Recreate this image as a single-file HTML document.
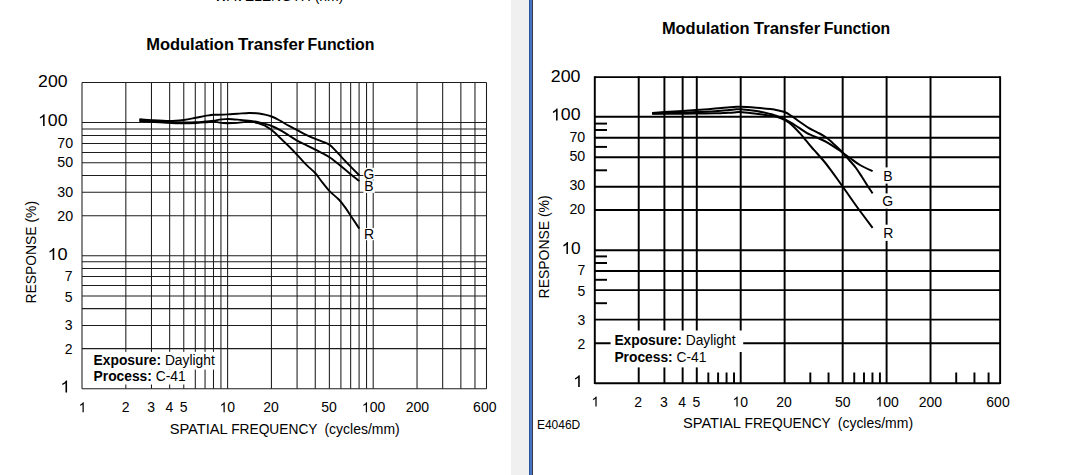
<!DOCTYPE html><html><head><meta charset="utf-8"><title>MTF</title>
<style>html,body{margin:0;padding:0;background:#fff;overflow:hidden}svg{display:block}text{font-family:"Liberation Sans",sans-serif;fill:#000}.b{font-weight:bold}</style></head><body>
<svg width="1066" height="475" viewBox="0 0 1066 475">
<rect width="1066" height="475" fill="#fff"/>
<rect x="511" y="0" width="18" height="475" fill="#f0f0f0"/>
<rect x="529" y="0" width="1" height="475" fill="#2b579a"/>
<rect x="530" y="0" width="2" height="475" fill="#4472c4"/>
<rect x="532" y="0" width="1" height="475" fill="#3b3f44"/>
<g stroke="#1c1c1c" stroke-width="1.05" fill="none">
<line x1="82.00" y1="82.50" x2="82.00" y2="388.70"/>
<line x1="125.83" y1="82.50" x2="125.83" y2="388.70"/>
<line x1="151.47" y1="82.50" x2="151.47" y2="388.70"/>
<line x1="169.66" y1="82.50" x2="169.66" y2="388.70"/>
<line x1="183.77" y1="82.50" x2="183.77" y2="388.70"/>
<line x1="195.30" y1="82.50" x2="195.30" y2="388.70"/>
<line x1="205.05" y1="82.50" x2="205.05" y2="388.70"/>
<line x1="213.49" y1="82.50" x2="213.49" y2="388.70"/>
<line x1="220.94" y1="82.50" x2="220.94" y2="388.70"/>
<line x1="227.60" y1="82.50" x2="227.60" y2="388.70"/>
<line x1="271.43" y1="82.50" x2="271.43" y2="388.70"/>
<line x1="297.07" y1="82.50" x2="297.07" y2="388.70"/>
<line x1="315.26" y1="82.50" x2="315.26" y2="388.70"/>
<line x1="329.37" y1="82.50" x2="329.37" y2="388.70"/>
<line x1="340.90" y1="82.50" x2="340.90" y2="388.70"/>
<line x1="350.65" y1="82.50" x2="350.65" y2="388.70"/>
<line x1="359.09" y1="82.50" x2="359.09" y2="388.70"/>
<line x1="366.54" y1="82.50" x2="366.54" y2="388.70"/>
<line x1="373.20" y1="82.50" x2="373.20" y2="388.70"/>
<line x1="417.03" y1="82.50" x2="417.03" y2="388.70"/>
<line x1="442.67" y1="82.50" x2="442.67" y2="388.70"/>
<line x1="460.86" y1="82.50" x2="460.86" y2="388.70"/>
<line x1="474.97" y1="82.50" x2="474.97" y2="388.70"/>
<line x1="486.50" y1="82.50" x2="486.50" y2="388.70"/>
<line x1="82.00" y1="388.70" x2="486.50" y2="388.70"/>
<line x1="82.00" y1="348.60" x2="486.50" y2="348.60"/>
<line x1="82.00" y1="325.40" x2="486.50" y2="325.40"/>
<line x1="82.00" y1="308.60" x2="486.50" y2="308.60"/>
<line x1="82.00" y1="295.90" x2="486.50" y2="295.90"/>
<line x1="82.00" y1="285.50" x2="486.50" y2="285.50"/>
<line x1="82.00" y1="276.50" x2="486.50" y2="276.50"/>
<line x1="82.00" y1="268.57" x2="486.50" y2="268.57"/>
<line x1="82.00" y1="261.76" x2="486.50" y2="261.76"/>
<line x1="82.00" y1="255.67" x2="486.50" y2="255.67"/>
<line x1="82.00" y1="215.80" x2="486.50" y2="215.80"/>
<line x1="82.00" y1="192.30" x2="486.50" y2="192.30"/>
<line x1="82.00" y1="175.50" x2="486.50" y2="175.50"/>
<line x1="82.00" y1="162.80" x2="486.50" y2="162.80"/>
<line x1="82.00" y1="152.50" x2="486.50" y2="152.50"/>
<line x1="82.00" y1="143.50" x2="486.50" y2="143.50"/>
<line x1="82.00" y1="135.47" x2="486.50" y2="135.47"/>
<line x1="82.00" y1="128.90" x2="486.50" y2="128.90"/>
<line x1="82.00" y1="122.57" x2="486.50" y2="122.57"/>
<line x1="82.00" y1="82.50" x2="486.50" y2="82.50"/>
</g>
<rect x="86" y="351.9" width="130" height="17.7" fill="#fff"/>
<rect x="86" y="369.6" width="100.5" height="14.9" fill="#fff"/>
<rect x="363.4" y="167.8" width="11.3" height="11.8" fill="#fff"/>
<rect x="363.4" y="180.4" width="11.3" height="12.5" fill="#fff"/>
<rect x="363.4" y="228.1" width="11.3" height="12.1" fill="#fff"/>
<g stroke="#000" stroke-width="1.9" fill="none" stroke-linejoin="round" stroke-linecap="butt">
<path d="M139.4,119.3C141.4,119.5 146.4,119.9 151.4,120.2C156.4,120.5 164.0,121.0 169.4,121.0C174.8,121.0 179.3,120.5 183.7,120.0C188.1,119.5 192.1,118.5 195.7,117.8C199.2,117.1 202.6,116.3 205.0,115.9C207.4,115.5 208.6,115.4 210.0,115.2C211.4,115.0 210.6,114.9 213.5,114.8C216.4,114.7 223.6,114.6 227.6,114.4C231.6,114.2 234.0,113.9 237.5,113.7C241.0,113.5 245.7,113.1 248.8,113.0C251.9,112.9 253.8,113.0 256.3,113.2C258.8,113.4 261.2,113.9 263.8,114.4C266.4,115.0 269.0,115.5 271.6,116.5C274.2,117.5 276.9,119.0 279.7,120.5C282.5,122.0 285.7,124.1 288.6,125.7C291.5,127.3 294.2,128.6 297.1,130.1C300.0,131.6 303.1,133.3 306.2,134.8C309.2,136.3 312.4,137.7 315.4,138.9C318.3,140.1 321.5,141.2 323.9,142.2C326.2,143.2 327.8,143.6 329.5,144.8C331.2,146.0 332.3,147.2 334.2,149.2C336.1,151.2 338.3,153.6 341.1,156.6C343.9,159.6 347.9,163.8 350.9,166.9C353.9,170.0 357.9,173.9 359.3,175.3"/>
<path d="M139.4,120.2C141.4,120.4 146.4,120.9 151.4,121.2C156.4,121.5 164.0,122.0 169.4,122.2C174.8,122.4 179.3,122.5 183.7,122.5C188.1,122.5 192.1,122.5 195.7,122.3C199.2,122.1 202.0,121.8 205.0,121.5C208.0,121.2 211.1,121.1 213.5,120.8C215.9,120.5 217.5,119.9 219.5,119.6C221.5,119.3 223.4,119.2 225.5,119.1C227.6,119.0 229.7,119.0 232.3,119.2C234.9,119.4 237.9,119.7 241.3,120.0C244.7,120.3 249.4,120.7 252.5,121.1C255.6,121.5 257.9,122.1 260.0,122.6C262.1,123.1 263.1,123.3 265.0,123.9C266.9,124.5 269.2,125.0 271.6,126.0C274.1,127.0 276.9,128.3 279.7,129.8C282.5,131.3 285.7,133.4 288.6,135.2C291.5,137.0 294.2,139.0 297.1,140.7C300.0,142.3 303.1,143.6 306.2,145.1C309.2,146.6 312.4,148.2 315.4,149.7C318.3,151.2 321.5,152.7 323.9,154.0C326.2,155.3 327.8,156.2 329.5,157.3C331.2,158.4 332.3,159.2 334.2,160.7C336.1,162.2 338.4,163.9 341.1,166.2C343.8,168.4 347.6,171.7 350.6,174.2C353.6,176.7 357.9,179.9 359.3,181.1"/>
<path d="M139.4,121.1C141.4,121.2 146.4,121.6 151.4,121.9C156.4,122.2 164.0,122.7 169.4,122.9C174.8,123.1 179.3,123.3 183.7,123.3C188.1,123.3 192.1,123.2 195.7,123.1C199.2,122.9 202.0,122.7 205.0,122.4C208.0,122.2 211.1,121.6 213.5,121.6C215.9,121.6 217.2,122.3 219.5,122.6C221.8,122.9 224.6,123.2 227.6,123.2C230.6,123.2 234.6,123.1 237.5,122.9C240.4,122.7 242.5,122.1 245.0,121.9C247.5,121.7 250.0,121.6 252.5,121.9C255.0,122.2 257.9,123.2 260.0,123.8C262.1,124.4 263.1,124.7 265.0,125.7C266.9,126.8 269.2,128.1 271.6,130.1C274.1,132.1 276.9,134.8 279.7,137.5C282.5,140.2 285.7,143.1 288.6,146.0C291.5,148.9 294.2,151.7 297.1,154.8C300.0,157.9 303.2,161.7 306.2,164.7C309.2,167.7 312.6,170.2 315.2,173.0C317.8,175.8 319.5,178.8 321.9,181.8C324.3,184.8 326.7,188.2 329.5,191.1C332.3,194.0 336.1,196.7 338.8,199.5C341.5,202.3 343.3,204.8 345.5,207.9C347.7,211.0 349.9,214.6 352.2,218.0C354.5,221.4 358.1,226.8 359.3,228.6"/>
</g>
<text x="146.2" y="49.9" font-size="16.8" text-anchor="start" textLength="87.8" lengthAdjust="spacingAndGlyphs" class="b" style="fill:#000">Modulation</text>
<text x="237.9" y="49.9" font-size="16.8" text-anchor="start" textLength="66.5" lengthAdjust="spacingAndGlyphs" class="b" style="fill:#000">Transfer</text>
<text x="307.5" y="49.9" font-size="16.8" text-anchor="start" textLength="67.0" lengthAdjust="spacingAndGlyphs" class="b" style="fill:#000">Function</text>
<text x="214.3" y="1.0" font-size="14" text-anchor="start" >WAVELENGTH (nm)</text>
<g transform="translate(38.1,87.1) scale(1.07,1)"><text x="0.00" y="0" font-size="16.5">2</text><text x="9.17" y="0" font-size="16.5">0</text><text x="18.35" y="0" font-size="16.5">0</text></g>
<g transform="translate(38.0,126.1) scale(1.075,1)"><path d="M373 0L285 0L285 -560Q253 -530 201 -499Q150 -469 109 -454L109 -539Q183 -574 238 -623Q293 -673 316 -720L373 -720Z" fill="#000" transform="translate(0.00,0) scale(0.01650)"/><text x="9.17" y="0" font-size="16.5">0</text><text x="18.35" y="0" font-size="16.5">0</text></g>
<text x="57.3" y="148.2" font-size="14" text-anchor="start" textLength="15.8" lengthAdjust="spacingAndGlyphs" >70</text>
<text x="57.3" y="166.6" font-size="14" text-anchor="start" textLength="15.8" lengthAdjust="spacingAndGlyphs" >50</text>
<text x="57.3" y="196.5" font-size="14" text-anchor="start" textLength="15.8" lengthAdjust="spacingAndGlyphs" >30</text>
<text x="57.3" y="220.5" font-size="14" text-anchor="start" textLength="15.8" lengthAdjust="spacingAndGlyphs" >20</text>
<g transform="translate(47.5,260.0) scale(1.1,1)"><path d="M373 0L285 0L285 -560Q253 -530 201 -499Q150 -469 109 -454L109 -539Q183 -574 238 -623Q293 -673 316 -720L373 -720Z" fill="#000" transform="translate(0.00,0) scale(0.01650)"/><text x="9.17" y="0" font-size="16.5">0</text></g>
<text x="64.8" y="281.3" font-size="14" text-anchor="start" >7</text>
<text x="64.8" y="302.2" font-size="14" text-anchor="start" >5</text>
<text x="64.8" y="330.2" font-size="14" text-anchor="start" >3</text>
<text x="64.8" y="354.1" font-size="14" text-anchor="start" >2</text>
<g transform="translate(60.3,392.5) scale(1.1,1)"><path d="M373 0L285 0L285 -560Q253 -530 201 -499Q150 -469 109 -454L109 -539Q183 -574 238 -623Q293 -673 316 -720L373 -720Z" fill="#000" transform="translate(0.00,0) scale(0.01650)"/></g>
<g transform="translate(82.4,412.3) scale(1.0,1)"><path d="M373 0L285 0L285 -560Q253 -530 201 -499Q150 -469 109 -454L109 -539Q183 -574 238 -623Q293 -673 316 -720L373 -720Z" fill="#000" transform="translate(-3.89,0) scale(0.01400)"/></g>
<g transform="translate(125.5,412.3) scale(1.0,1)"><text x="-3.89" y="0" font-size="14">2</text></g>
<g transform="translate(151.2,412.3) scale(1.0,1)"><text x="-3.89" y="0" font-size="14">3</text></g>
<g transform="translate(169.4,412.3) scale(1.0,1)"><text x="-3.89" y="0" font-size="14">4</text></g>
<g transform="translate(183.5,412.3) scale(1.0,1)"><text x="-3.89" y="0" font-size="14">5</text></g>
<g transform="translate(227.3,412.3) scale(1.0,1)"><path d="M373 0L285 0L285 -560Q253 -530 201 -499Q150 -469 109 -454L109 -539Q183 -574 238 -623Q293 -673 316 -720L373 -720Z" fill="#000" transform="translate(-7.78,0) scale(0.01400)"/><text x="0.00" y="0" font-size="14">0</text></g>
<g transform="translate(271.1,412.3) scale(1.0,1)"><text x="-7.78" y="0" font-size="14">2</text><text x="0.00" y="0" font-size="14">0</text></g>
<g transform="translate(329.1,412.3) scale(1.0,1)"><text x="-7.78" y="0" font-size="14">5</text><text x="0.00" y="0" font-size="14">0</text></g>
<g transform="translate(373.5,412.3) scale(1.0,1)"><path d="M373 0L285 0L285 -560Q253 -530 201 -499Q150 -469 109 -454L109 -539Q183 -574 238 -623Q293 -673 316 -720L373 -720Z" fill="#000" transform="translate(-11.68,0) scale(0.01400)"/><text x="-3.89" y="0" font-size="14">0</text><text x="3.89" y="0" font-size="14">0</text></g>
<g transform="translate(417.4,412.3) scale(1.0,1)"><text x="-11.68" y="0" font-size="14">2</text><text x="-3.89" y="0" font-size="14">0</text><text x="3.89" y="0" font-size="14">0</text></g>
<text x="484.8" y="412.3" font-size="14" text-anchor="middle" >600</text>
<text x="169.65" y="434.3" font-size="14" text-anchor="start" textLength="58.1" lengthAdjust="spacingAndGlyphs" >SPATIAL</text>
<text x="231.2" y="434.3" font-size="14" text-anchor="start" textLength="86.3" lengthAdjust="spacingAndGlyphs" >FREQUENCY</text>
<text x="324.45" y="434.3" font-size="14" text-anchor="start" textLength="75.3" lengthAdjust="spacingAndGlyphs" >(cycles/mm)</text>
<text transform="translate(36.3,303.4) rotate(-90)" font-size="13.8" textLength="102.4" lengthAdjust="spacingAndGlyphs">RESPONSE (%)</text>
<text x="93.6" y="365.1" font-size="13.8"><tspan class="b">Exposure:</tspan> Daylight</text>
<text x="93.6" y="381.4" font-size="13.8"><tspan class="b">Process:</tspan> C-41</text>
<text x="369" y="178.5" font-size="14" text-anchor="middle" >G</text>
<text x="368.8" y="191.1" font-size="14" text-anchor="middle" >B</text>
<text x="369" y="239" font-size="14" text-anchor="middle" >R</text>
<g stroke="#000" stroke-width="1.95" fill="none">
<line x1="594.80" y1="76.30" x2="594.80" y2="384.10"/>
<line x1="638.72" y1="76.30" x2="638.72" y2="384.10"/>
<line x1="664.41" y1="76.30" x2="664.41" y2="384.10"/>
<line x1="682.64" y1="76.30" x2="682.64" y2="384.10"/>
<line x1="696.78" y1="76.30" x2="696.78" y2="384.10"/>
<line x1="740.70" y1="76.30" x2="740.70" y2="384.10"/>
<line x1="784.62" y1="76.30" x2="784.62" y2="384.10"/>
<line x1="842.68" y1="76.30" x2="842.68" y2="384.10"/>
<line x1="886.60" y1="76.30" x2="886.60" y2="384.10"/>
<line x1="930.52" y1="76.30" x2="930.52" y2="384.10"/>
<line x1="1000.13" y1="76.30" x2="1000.13" y2="384.10"/>
<line x1="594.80" y1="383.30" x2="1000.13" y2="383.30"/>
<line x1="594.80" y1="343.30" x2="1000.13" y2="343.30"/>
<line x1="594.80" y1="319.60" x2="1000.13" y2="319.60"/>
<line x1="594.80" y1="290.10" x2="1000.13" y2="290.10"/>
<line x1="594.80" y1="270.90" x2="1000.13" y2="270.90"/>
<line x1="594.80" y1="250.20" x2="1000.13" y2="250.20"/>
<line x1="594.80" y1="209.90" x2="1000.13" y2="209.90"/>
<line x1="594.80" y1="186.70" x2="1000.13" y2="186.70"/>
<line x1="594.80" y1="157.20" x2="1000.13" y2="157.20"/>
<line x1="594.80" y1="137.70" x2="1000.13" y2="137.70"/>
<line x1="594.80" y1="116.80" x2="1000.13" y2="116.80"/>
<line x1="594.80" y1="77.10" x2="1000.13" y2="77.10"/>
<line x1="594.80" y1="303.20" x2="607.00" y2="303.20"/>
<line x1="594.80" y1="279.80" x2="607.00" y2="279.80"/>
<line x1="594.80" y1="263.00" x2="607.00" y2="263.00"/>
<line x1="594.80" y1="256.40" x2="607.00" y2="256.40"/>
<line x1="594.80" y1="170.30" x2="607.00" y2="170.30"/>
<line x1="594.80" y1="146.90" x2="607.00" y2="146.90"/>
<line x1="594.80" y1="130.00" x2="607.00" y2="130.00"/>
<line x1="594.80" y1="123.60" x2="607.00" y2="123.60"/>
<line x1="708.33" y1="372.50" x2="708.33" y2="383.30"/>
<line x1="718.10" y1="372.50" x2="718.10" y2="383.30"/>
<line x1="726.56" y1="372.50" x2="726.56" y2="383.30"/>
<line x1="734.02" y1="372.50" x2="734.02" y2="383.30"/>
<line x1="810.31" y1="372.50" x2="810.31" y2="383.30"/>
<line x1="828.54" y1="372.50" x2="828.54" y2="383.30"/>
<line x1="854.23" y1="372.50" x2="854.23" y2="383.30"/>
<line x1="864.00" y1="372.50" x2="864.00" y2="383.30"/>
<line x1="872.46" y1="372.50" x2="872.46" y2="383.30"/>
<line x1="879.92" y1="372.50" x2="879.92" y2="383.30"/>
<line x1="956.21" y1="372.50" x2="956.21" y2="383.30"/>
<line x1="974.44" y1="372.50" x2="974.44" y2="383.30"/>
<line x1="988.58" y1="372.50" x2="988.58" y2="383.30"/>
</g>
<rect x="610.6" y="330.5" width="132.6" height="21.5" fill="#fff"/>
<rect x="610.6" y="351" width="110" height="16.4" fill="#fff"/>
<g stroke="#000" stroke-width="2.0" fill="none" stroke-linejoin="round">
<path d="M652.2,113.0C654.2,112.8 659.3,112.3 664.4,112.0C669.5,111.7 677.4,111.3 682.7,111.0C688.0,110.7 690.9,110.5 696.3,110.1C701.7,109.7 708.8,109.1 715.0,108.6C721.2,108.1 729.5,107.3 733.8,107.0C738.0,106.7 736.8,106.6 740.5,106.7C744.2,106.8 751.3,107.3 756.3,107.7C761.3,108.1 767.1,108.7 770.4,109.1C773.7,109.5 773.6,109.4 776.0,109.9C778.4,110.4 782.0,111.0 784.5,112.0C787.0,113.0 788.8,114.2 791.3,115.8C793.8,117.4 796.6,119.6 799.6,121.7C802.6,123.8 806.1,126.4 809.0,128.2C811.9,130.0 814.5,130.8 817.2,132.3C820.0,133.8 822.9,135.2 825.5,137.0C828.1,138.8 830.2,140.8 832.6,142.9C835.0,145.0 837.9,147.7 839.6,149.4C841.3,151.1 841.4,151.1 843.0,152.9C844.6,154.7 847.0,157.5 849.2,160.0C851.4,162.5 853.9,165.2 856.0,168.0C858.1,170.8 860.0,173.9 862.0,177.0C864.0,180.1 866.2,183.8 868.0,186.5C869.8,189.2 871.8,192.2 872.6,193.3"/>
<path d="M652.2,113.4C657.3,113.3 675.4,112.8 682.7,112.6C690.1,112.4 690.9,112.3 696.3,112.1C701.7,111.9 710.5,111.5 715.0,111.2C719.5,110.9 720.4,110.7 723.5,110.4C726.6,110.1 731.0,109.8 733.8,109.6C736.6,109.4 736.8,109.0 740.5,109.2C744.2,109.4 751.3,110.1 756.3,110.9C761.3,111.7 767.1,113.2 770.4,114.0C773.7,114.8 773.6,115.0 776.0,115.8C778.4,116.6 782.0,117.9 784.5,119.1C787.0,120.3 788.8,121.4 791.3,122.9C793.8,124.4 797.0,126.5 799.6,128.2C802.2,129.9 804.6,131.7 806.6,132.9C808.6,134.1 809.6,134.4 811.4,135.2C813.2,136.0 814.9,136.5 817.2,137.6C819.6,138.7 822.9,140.1 825.5,141.5C828.1,142.9 830.2,144.3 832.6,145.8C835.0,147.3 837.9,149.3 839.6,150.5C841.3,151.7 841.3,151.8 843.0,153.0C844.7,154.2 847.2,156.0 850.0,158.0C852.8,160.0 856.2,162.8 860.0,165.0C863.8,167.2 870.5,170.2 872.6,171.2"/>
<path d="M652.2,113.8C657.3,113.8 675.4,113.7 682.7,113.7C690.1,113.7 690.9,113.7 696.3,113.6C701.7,113.5 710.5,113.4 715.0,113.3C719.5,113.2 720.4,113.2 723.5,113.0C726.6,112.8 731.0,112.6 733.8,112.4C736.6,112.2 736.8,111.8 740.5,112.0C744.2,112.2 751.3,113.2 756.3,113.8C761.3,114.4 767.1,115.1 770.4,115.6C773.7,116.0 773.6,115.8 776.0,116.5C778.4,117.2 782.0,118.6 784.5,119.9C787.0,121.2 788.8,122.4 791.3,124.6C793.8,126.8 797.0,130.2 799.6,132.9C802.2,135.7 804.6,138.8 806.6,141.1C808.6,143.4 809.6,144.9 811.4,147.0C813.2,149.1 815.1,151.1 817.2,153.5C819.3,155.9 822.1,158.9 824.2,161.5C826.4,164.1 827.8,166.0 830.1,169.1C832.4,172.2 835.9,177.0 838.0,180.0C840.1,183.0 841.0,184.2 843.0,187.0C845.0,189.8 847.2,193.0 850.0,197.0C852.8,201.0 856.2,205.9 860.0,211.0C863.8,216.1 870.5,225.0 872.6,227.8"/>
</g>
<rect x="881.6" y="167.4" width="10" height="16.2" fill="#fff"/>
<rect x="881.6" y="193.4" width="10" height="15.3" fill="#fff"/>
<rect x="881.6" y="224.7" width="10" height="16.2" fill="#fff"/>
<text x="888" y="181.3" font-size="14" text-anchor="middle" >B</text>
<text x="887.8" y="206.0" font-size="14" text-anchor="middle" >G</text>
<text x="888.2" y="238.1" font-size="14" text-anchor="middle" >R</text>
<text x="661.9" y="33.9" font-size="16.8" text-anchor="start" textLength="87.6" lengthAdjust="spacingAndGlyphs" class="b" style="fill:#000">Modulation</text>
<text x="753.8" y="33.9" font-size="16.8" text-anchor="start" textLength="66.5" lengthAdjust="spacingAndGlyphs" class="b" style="fill:#000">Transfer</text>
<text x="823.7" y="33.9" font-size="16.8" text-anchor="start" textLength="66.5" lengthAdjust="spacingAndGlyphs" class="b" style="fill:#000">Function</text>
<g transform="translate(550.8,82.1) scale(1.08,1)"><text x="0.00" y="0" font-size="16.5">2</text><text x="9.17" y="0" font-size="16.5">0</text><text x="18.35" y="0" font-size="16.5">0</text></g>
<g transform="translate(551.0,120.4) scale(1.075,1)"><path d="M373 0L285 0L285 -560Q253 -530 201 -499Q150 -469 109 -454L109 -539Q183 -574 238 -623Q293 -673 316 -720L373 -720Z" fill="#000" transform="translate(0.00,0) scale(0.01650)"/><text x="9.17" y="0" font-size="16.5">0</text><text x="18.35" y="0" font-size="16.5">0</text></g>
<text x="569.4" y="141.9" font-size="14" text-anchor="start" textLength="15.8" lengthAdjust="spacingAndGlyphs" >70</text>
<text x="569.4" y="161.3" font-size="14" text-anchor="start" textLength="15.8" lengthAdjust="spacingAndGlyphs" >50</text>
<text x="569.4" y="190" font-size="14" text-anchor="start" textLength="15.8" lengthAdjust="spacingAndGlyphs" >30</text>
<text x="569.4" y="213.7" font-size="14" text-anchor="start" textLength="15.8" lengthAdjust="spacingAndGlyphs" >20</text>
<g transform="translate(561.5,253.9) scale(1.05,1)"><path d="M373 0L285 0L285 -560Q253 -530 201 -499Q150 -469 109 -454L109 -539Q183 -574 238 -623Q293 -673 316 -720L373 -720Z" fill="#000" transform="translate(0.00,0) scale(0.01650)"/><text x="9.17" y="0" font-size="16.5">0</text></g>
<text x="577.4" y="274.6" font-size="14" text-anchor="start" >7</text>
<text x="577.4" y="296" font-size="14" text-anchor="start" >5</text>
<text x="577.4" y="324.6" font-size="14" text-anchor="start" >3</text>
<text x="577.4" y="348.6" font-size="14" text-anchor="start" >2</text>
<g transform="translate(573.0,387.1) scale(1.1,1)"><path d="M373 0L285 0L285 -560Q253 -530 201 -499Q150 -469 109 -454L109 -539Q183 -574 238 -623Q293 -673 316 -720L373 -720Z" fill="#000" transform="translate(0.00,0) scale(0.01650)"/></g>
<g transform="translate(595.3,406.5) scale(1.0,1)"><path d="M373 0L285 0L285 -560Q253 -530 201 -499Q150 -469 109 -454L109 -539Q183 -574 238 -623Q293 -673 316 -720L373 -720Z" fill="#000" transform="translate(-3.89,0) scale(0.01400)"/></g>
<g transform="translate(638.2,406.5) scale(1.0,1)"><text x="-3.89" y="0" font-size="14">2</text></g>
<g transform="translate(663.9,406.5) scale(1.0,1)"><text x="-3.89" y="0" font-size="14">3</text></g>
<g transform="translate(682.1,406.5) scale(1.0,1)"><text x="-3.89" y="0" font-size="14">4</text></g>
<g transform="translate(696.3,406.5) scale(1.0,1)"><text x="-3.89" y="0" font-size="14">5</text></g>
<g transform="translate(740.2,406.5) scale(1.0,1)"><path d="M373 0L285 0L285 -560Q253 -530 201 -499Q150 -469 109 -454L109 -539Q183 -574 238 -623Q293 -673 316 -720L373 -720Z" fill="#000" transform="translate(-7.78,0) scale(0.01400)"/><text x="0.00" y="0" font-size="14">0</text></g>
<g transform="translate(784.1,406.5) scale(1.0,1)"><text x="-7.78" y="0" font-size="14">2</text><text x="0.00" y="0" font-size="14">0</text></g>
<g transform="translate(842.7,406.5) scale(1.0,1)"><text x="-7.78" y="0" font-size="14">5</text><text x="0.00" y="0" font-size="14">0</text></g>
<g transform="translate(887.1,406.5) scale(1.0,1)"><path d="M373 0L285 0L285 -560Q253 -530 201 -499Q150 -469 109 -454L109 -539Q183 -574 238 -623Q293 -673 316 -720L373 -720Z" fill="#000" transform="translate(-11.68,0) scale(0.01400)"/><text x="-3.89" y="0" font-size="14">0</text><text x="3.89" y="0" font-size="14">0</text></g>
<g transform="translate(930.4,406.5) scale(1.0,1)"><text x="-11.68" y="0" font-size="14">2</text><text x="-3.89" y="0" font-size="14">0</text><text x="3.89" y="0" font-size="14">0</text></g>
<text x="998" y="406.5" font-size="14" text-anchor="middle" >600</text>
<text x="682.9499999999999" y="428.0" font-size="14" text-anchor="start" textLength="58.1" lengthAdjust="spacingAndGlyphs" >SPATIAL</text>
<text x="744.5" y="428.0" font-size="14" text-anchor="start" textLength="86.3" lengthAdjust="spacingAndGlyphs" >FREQUENCY</text>
<text x="837.75" y="428.0" font-size="14" text-anchor="start" textLength="75.3" lengthAdjust="spacingAndGlyphs" >(cycles/mm)</text>
<text transform="translate(548.9,298.4) rotate(-90)" font-size="13.8" textLength="103" lengthAdjust="spacingAndGlyphs">RESPONSE (%)</text>
<text x="614.4" y="344.7" font-size="13.8"><tspan class="b">Exposure:</tspan> Daylight</text>
<text x="614.4" y="361.5" font-size="13.8"><tspan class="b">Process:</tspan> C-41</text>
<text x="536.9" y="428.7" font-size="12" text-anchor="start" >E4046D</text>
</svg></body></html>
